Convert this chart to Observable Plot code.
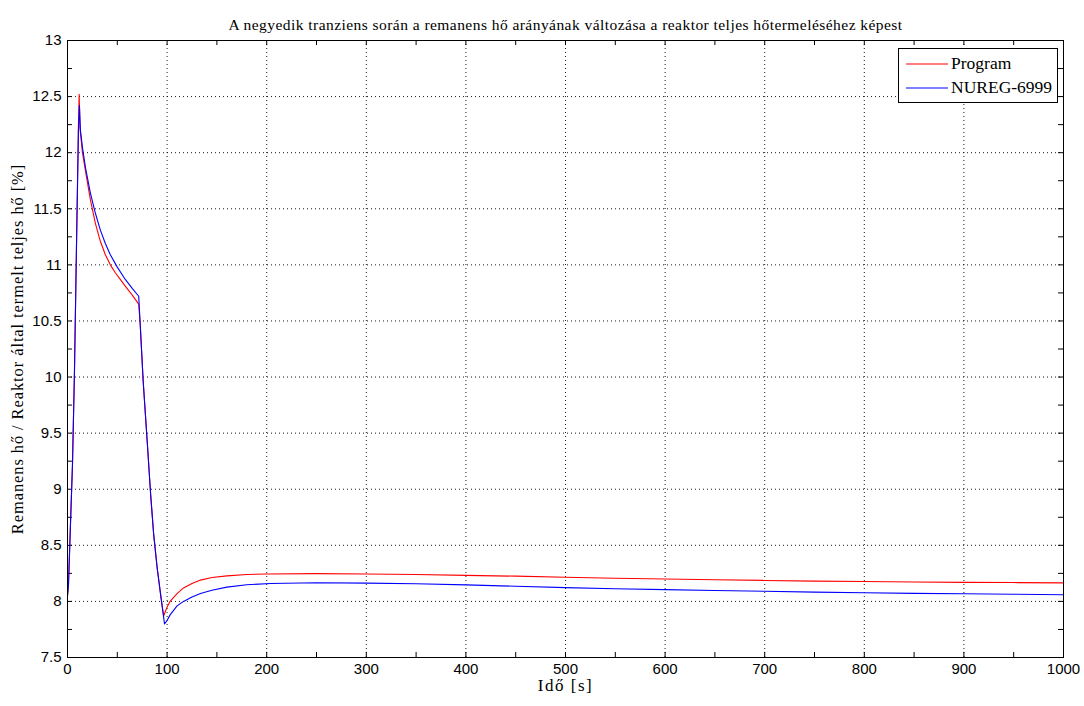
<!DOCTYPE html>
<html><head><meta charset="utf-8">
<script src="https://cdn.jsdelivr.net/npm/d3@7"></script>
<script src="https://cdn.jsdelivr.net/npm/@observablehq/plot@0.6"></script>
<style>
body{margin:0;background:#fff;}
#wrap{position:relative;width:1084px;height:706px;}
#legend{position:absolute;left:898px;top:48px;width:160px;height:55px;background:#fff;border:1px solid #000;box-sizing:border-box;font-family:"Liberation Serif",serif;font-size:17.5px;}
#legend .row{position:absolute;left:7px;display:flex;align-items:center;white-space:nowrap;}
#legend svg{margin-right:3px;}
</style></head><body><div id="wrap"><div id="legend"></div></div>
<script>
const title = "A negyedik tranziens során a remanens hő arányának változása a reaktor teljes hőtermeléséhez képest";
const xLabel = "Idő [s]";
const yLabel = "Remanens hő / Reaktor által termelt teljes hő [%]";
const seriesNames = ["Program", "NUREG-6999"];
const seriesColors = ["#ff0000", "#0000ff"];

const programT = [0, 1, 3, 5, 7, 9, 11, 11.7, 12.5, 15, 18, 23, 28, 33, 38, 43, 48, 53, 58, 65, 71.5, 73, 76, 80, 83.5, 86.5, 90, 93.5, 96.5, 100, 103, 110, 116.5, 125, 133.5, 145, 160, 180, 200, 250, 300, 350, 400, 450, 500, 550, 600, 650, 700, 750, 800, 850, 900, 950, 1000];
const programV = [8.05, 8.15, 8.69, 9.22, 10.05, 11.15, 12.26, 12.52, 12.22, 12.0, 11.84, 11.58, 11.37, 11.21, 11.09, 11.0, 10.93, 10.87, 10.81, 10.73, 10.65, 10.47, 9.96, 9.43, 8.95, 8.6, 8.3, 8.06, 7.87, 7.95, 8.0, 8.07, 8.12, 8.16, 8.19, 8.213, 8.228, 8.24, 8.245, 8.248, 8.245, 8.24, 8.232, 8.225, 8.215, 8.207, 8.2, 8.193, 8.187, 8.181, 8.177, 8.173, 8.17, 8.168, 8.165];

const nuregT = [0, 1, 3, 5, 7, 9, 11, 12, 13, 15, 18, 23, 28, 33, 38, 43, 50, 58, 65, 71.5, 73, 76, 80, 83.5, 86.5, 90, 93.5, 97.4, 100, 103, 110, 116.5, 125, 133.5, 145, 160, 180, 204, 250, 300, 350, 400, 450, 500, 550, 600, 650, 700, 750, 800, 850, 900, 950, 1000];
const nuregV = [8.05, 8.15, 8.69, 9.22, 10.05, 11.15, 12.2, 12.42, 12.2, 12.05, 11.87, 11.64, 11.46, 11.31, 11.19, 11.09, 10.98, 10.87, 10.79, 10.72, 10.47, 9.96, 9.43, 8.95, 8.6, 8.3, 8.06, 7.80, 7.83, 7.88, 7.96, 8.0, 8.04, 8.07, 8.1, 8.127, 8.148, 8.16, 8.167, 8.163, 8.157, 8.147, 8.135, 8.123, 8.113, 8.105, 8.097, 8.09, 8.083, 8.077, 8.072, 8.068, 8.064, 8.06];

const xTicks = [0, 100, 200, 300, 400, 500, 600, 700, 800, 900, 1000];
const yTicks = [7.5, 8, 8.5, 9, 9.5, 10, 10.5, 11, 11.5, 12, 12.5, 13];
const xMinor = d3.range(0, 1001, 50);
const yMinor = d3.range(7.5, 13.001, 0.25);

const program = programT.map((t, i) => ({t, v: programV[i]}));
const nureg = nuregT.map((t, i) => ({t, v: nuregV[i]}));

const serif = "'Liberation Serif', 'Times New Roman', serif";
const sans = "'Liberation Sans', Arial, sans-serif";

const chart = Plot.plot({
  width: 1084, height: 706,
  marginLeft: 67, marginRight: 21, marginTop: 40, marginBottom: 49,
  style: {fontFamily: sans, fontSize: "15px", color: "#000", background: "#fff"},
  x: {domain: [0, 1000], ticks: xTicks, tickFormat: d => String(d), tickSize: 0, tickPadding: 6, label: null},
  y: {domain: [7.5, 13], ticks: yTicks, tickFormat: d => String(d), tickSize: 0, tickPadding: 6, label: null},
  marks: [
    Plot.gridX(xTicks, {stroke: "#000", strokeOpacity: 0.9, strokeDasharray: "1,3"}),
    Plot.gridY(yTicks, {stroke: "#000", strokeOpacity: 0.9, strokeDasharray: "1,3"}),
    Plot.ruleX(xMinor, {y1: 7.5, y2: 7.545, stroke: "#000"}),
    Plot.ruleX(xMinor, {y1: 13, y2: 12.955, stroke: "#000"}),
    Plot.ruleY(yMinor, {x1: 0, x2: 5, stroke: "#000"}),
    Plot.ruleY(yMinor, {x1: 1000, x2: 995, stroke: "#000"}),
    Plot.line(program, {x: "t", y: "v", stroke: seriesColors[0], strokeWidth: 1.1}),
    Plot.line(nureg, {x: "t", y: "v", stroke: seriesColors[1], strokeWidth: 1.1}),
    Plot.frame({stroke: "#000"}),
    Plot.axisX(xTicks, {tickSize: 0, tickPadding: 6, tickFormat: d => String(d), fontSize: 15}),
    Plot.axisY(yTicks, {tickSize: 0, tickPadding: 6, tickFormat: d => String(d), fontSize: 15}),
    Plot.text([title], {frameAnchor: "top", dy: -22, fontFamily: serif, fontSize: 15.5}),
    Plot.text([xLabel], {frameAnchor: "bottom", dy: 33, fontFamily: serif, fontSize: 17}),
    Plot.text([yLabel], {frameAnchor: "left", textAnchor: "middle", dx: -50, rotate: -90, fontFamily: serif, fontSize: 16.5})
  ]
});
document.getElementById("wrap").prepend(chart);

// widen letter spacing of title and axis labels to match the reference's looser rendering
d3.select(chart).selectAll("text").each(function() {
  const s = this.textContent;
  if (s === title) this.setAttribute("letter-spacing", "0.45px");
  else if (s === yLabel) this.setAttribute("letter-spacing", "0.9px");
  else if (s === xLabel) this.setAttribute("letter-spacing", "1.5px");
});

const legend = document.getElementById("legend");
seriesNames.forEach((name, i) => {
  const row = document.createElement("div");
  row.className = "row";
  row.style.top = (i === 0 ? 4 : 28) + "px";
  const ns = "http://www.w3.org/2000/svg";
  const sw = document.createElementNS(ns, "svg");
  sw.setAttribute("width", 42); sw.setAttribute("height", 10);
  const ln = document.createElementNS(ns, "line");
  ln.setAttribute("x1", 0); ln.setAttribute("x2", 42);
  ln.setAttribute("y1", 5); ln.setAttribute("y2", 5);
  ln.setAttribute("stroke", seriesColors[i]); ln.setAttribute("stroke-width", 1.2);
  sw.appendChild(ln);
  const tx = document.createElement("span");
  tx.textContent = name;
  row.appendChild(sw); row.appendChild(tx);
  legend.appendChild(row);
});
</script>
</body></html>
